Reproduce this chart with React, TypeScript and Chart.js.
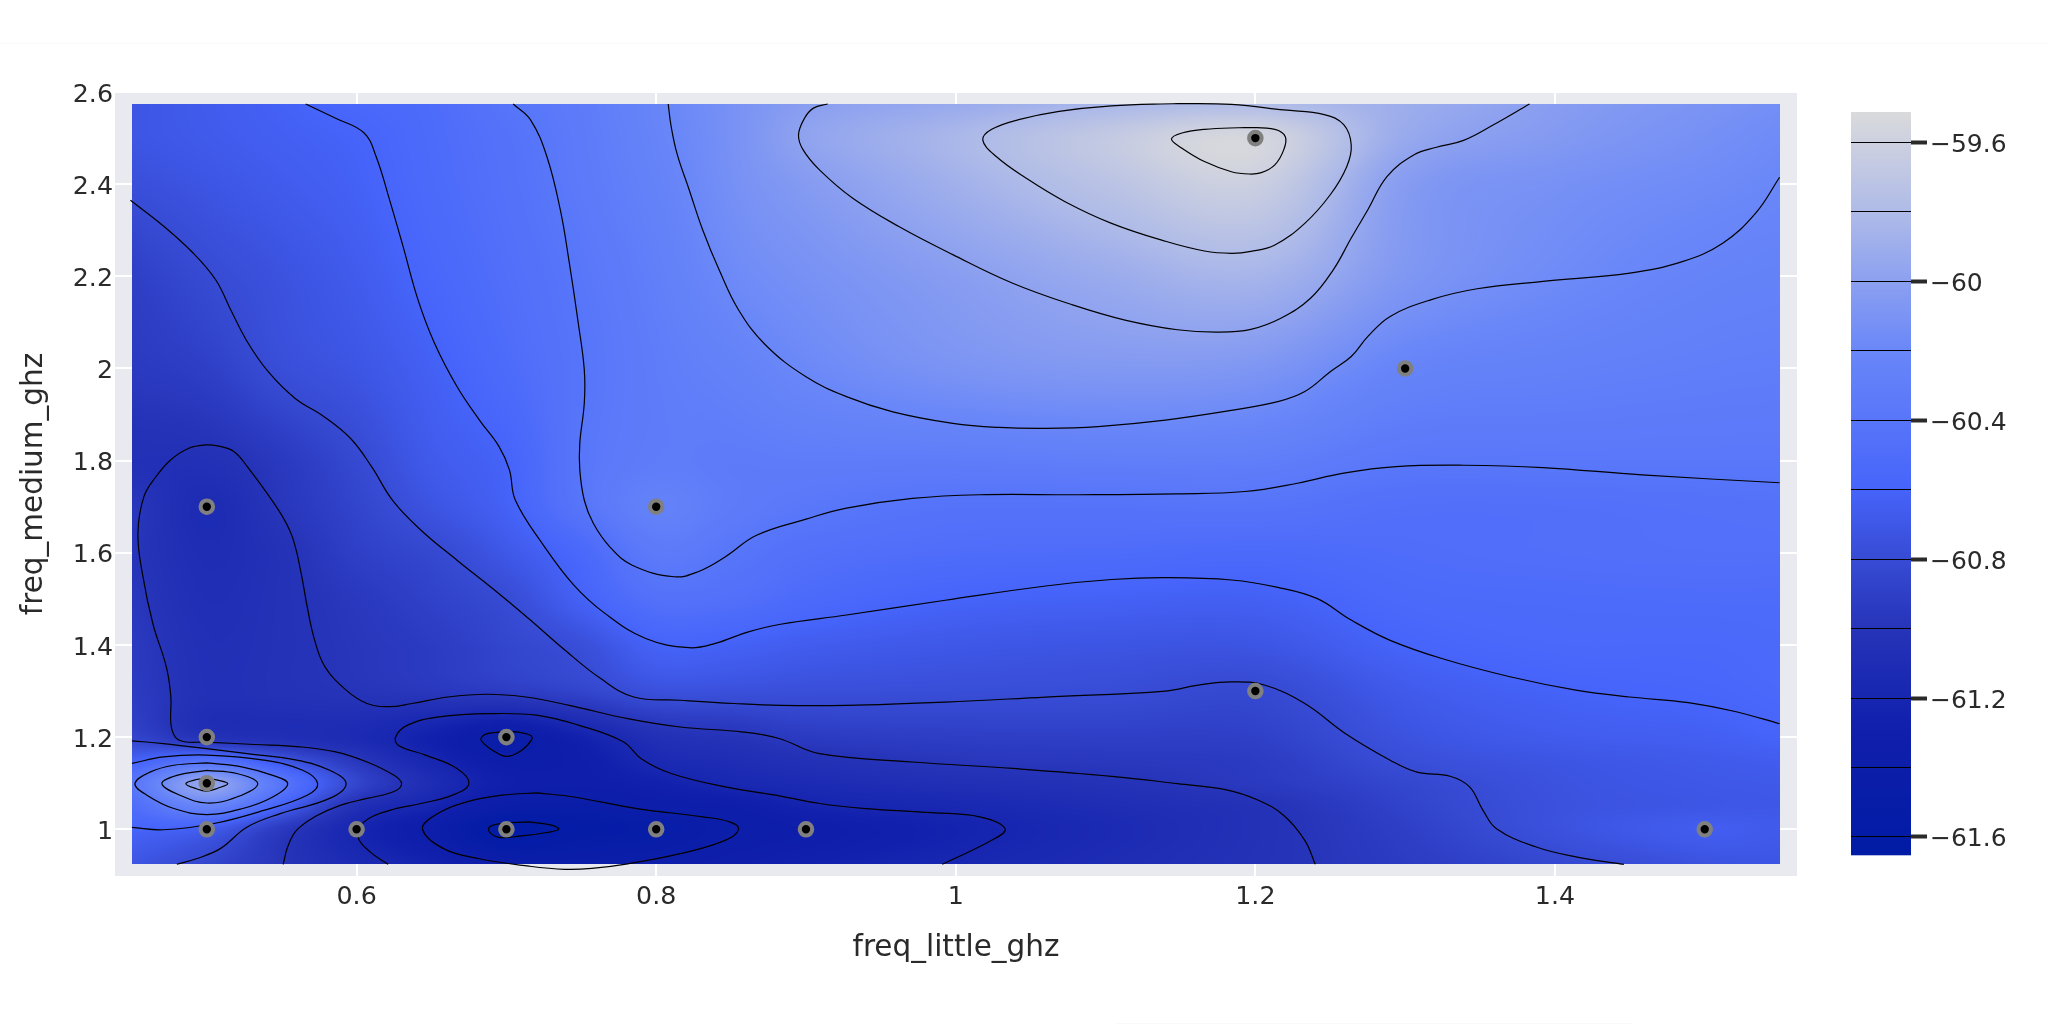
import React, { useEffect, useRef } from "react";
import { Chart, registerables } from "chart.js";

Chart.register(...registerables);

const X_RANGE = [0.4387, 1.5616];
const Y_RANGE = [0.8986, 2.6];
const HEAT_X = [0.45, 0.5, 0.55, 0.6, 0.65, 0.7, 0.75, 0.8, 0.85, 0.9, 1.0, 1.1, 1.2, 1.3, 1.4, 1.5, 1.55];
const HEAT_Y = [0.925, 1, 1.05, 1.1, 1.15, 1.2, 1.3, 1.4, 1.5, 1.6, 1.7, 1.8, 2, 2.2, 2.4, 2.5, 2.575];

const Z_0925 = [-60.72, -60.85, -61.0, -61.14, -61.25, -61.39, -61.41, -61.37, -61.32, -61.27, -61.19, -61.11, -61.03, -60.93, -60.83, -60.74, -60.72];
const Z_1000 = [-60.6, -60.66, -60.95, -61.2, -61.38, -61.62, -61.55, -61.5, -61.4, -61.34, -61.24, -61.14, -61.04, -60.9, -60.75, -60.66, -60.68];
const Z_1050 = [-60.5, -60.24, -60.62, -61.06, -61.22, -61.43, -61.45, -61.38, -61.35, -61.24, -61.17, -61.1, -61.03, -60.87, -60.75, -60.71, -60.7];
const Z_1100 = [-60.41, -59.97, -60.41, -60.85, -61.11, -61.3, -61.33, -61.27, -61.18, -61.13, -61.07, -61.03, -60.95, -60.84, -60.74, -60.7, -60.69];
const Z_1150 = [-60.63, -60.47, -60.73, -60.98, -61.2, -61.37, -61.32, -61.15, -61.1, -61.05, -60.98, -60.96, -60.93, -60.78, -60.72, -60.68, -60.66];
const Z_1200 = [-60.85, -61.03, -61.08, -61.13, -61.27, -61.42, -61.25, -61.06, -61.01, -60.94, -60.91, -60.9, -60.89, -60.74, -60.67, -60.64, -60.6];
const Z_1300 = [-60.93, -61.05, -61.03, -61.0, -60.97, -60.93, -60.86, -60.76, -60.76, -60.77, -60.78, -60.79, -60.82, -60.68, -60.61, -60.58, -60.55];
const Z_1400 = [-60.95, -61.06, -61.03, -60.98, -60.93, -60.85, -60.77, -60.61, -60.62, -60.66, -60.7, -60.72, -60.72, -60.6, -60.55, -60.55, -60.53];
const Z_1500 = [-60.97, -61.08, -61.03, -60.96, -60.88, -60.8, -60.62, -60.46, -60.47, -60.53, -60.6, -60.62, -60.63, -60.54, -60.52, -60.51, -60.51];
const Z_1600 = [-60.99, -61.1, -61.03, -60.9, -60.83, -60.7, -60.55, -60.35, -60.4, -60.46, -60.5, -60.51, -60.53, -60.5, -60.48, -60.47, -60.47];
const Z_1700 = [-60.97, -61.12, -60.98, -60.86, -60.73, -60.62, -60.41, -60.27, -60.33, -60.38, -60.43, -60.43, -60.42, -60.47, -60.47, -60.45, -60.44];
const Z_1800 = [-61.05, -61.05, -60.95, -60.82, -60.68, -60.6, -60.4, -60.32, -60.33, -60.32, -60.32, -60.3, -60.3, -60.38, -60.38, -60.38, -60.38];
const Z_2000 = [-60.95, -60.9, -60.78, -60.72, -60.63, -60.52, -60.41, -60.32, -60.26, -60.19, -60.1, -60.06, -60.08, -60.23, -60.27, -60.3, -60.31];
const Z_2200 = [-60.9, -60.81, -60.74, -60.67, -60.57, -60.48, -60.39, -60.29, -60.18, -60.12, -60.02, -59.92, -59.85, -60.07, -60.17, -60.24, -60.26];
const Z_2400 = [-60.77, -60.72, -60.67, -60.62, -60.53, -60.45, -60.35, -60.25, -60.13, -60.04, -59.88, -59.73, -59.62, -60.03, -60.12, -60.17, -60.2];
const Z_2500 = [-60.72, -60.68, -60.64, -60.6, -60.52, -60.44, -60.34, -60.23, -60.12, -59.98, -59.83, -59.67, -59.55, -59.93, -60.05, -60.13, -60.17];
const Z_2575 = [-60.72, -60.67, -60.62, -60.56, -60.51, -60.41, -60.33, -60.22, -60.12, -60.02, -59.93, -59.84, -59.8, -59.9, -60.02, -60.1, -60.14];
const Z_ROWS = [Z_0925, Z_1000, Z_1050, Z_1100, Z_1150, Z_1200, Z_1300, Z_1400, Z_1500, Z_1600, Z_1700, Z_1800, Z_2000, Z_2200, Z_2400, Z_2500, Z_2575];

const COLOR_Z = [-61.653, -61.3, -61.0, -60.8, -60.6, -60.2, -60.0, -59.8, -59.512];
const COLOR_RGB = [
  [0, 27, 165], [16, 31, 172], [38, 52, 185], [55, 75, 212], [70, 100, 250],
  [105, 135, 248], [140, 160, 240], [175, 187, 232], [218, 218, 220],
];

const C_596 = [[1.193, 2.523], [1.213, 2.519], [1.22, 2.503], [1.219, 2.475], [1.213, 2.442], [1.204, 2.425], [1.196, 2.422], [1.184, 2.427], [1.166, 2.449], [1.151, 2.478], [1.144, 2.498], [1.151, 2.511], [1.166, 2.519], [1.193, 2.523]];
const C_598 = [[1.148, 2.575], [1.184, 2.573], [1.219, 2.561], [1.246, 2.551], [1.259, 2.529], [1.264, 2.485], [1.261, 2.438], [1.25, 2.377], [1.233, 2.315], [1.213, 2.268], [1.197, 2.254], [1.184, 2.25], [1.166, 2.255], [1.14, 2.276], [1.104, 2.315], [1.073, 2.362], [1.047, 2.413], [1.027, 2.46], [1.018, 2.496], [1.024, 2.519], [1.042, 2.54], [1.069, 2.558], [1.104, 2.57], [1.148, 2.575]];
const C_600 = [[0.9145, 2.574], [0.905, 2.565], [0.899, 2.543], [0.895, 2.507], [0.898, 2.475], [0.909, 2.431], [0.931, 2.37], [0.962, 2.308], [0.998, 2.247], [1.038, 2.185], [1.078, 2.138], [1.113, 2.105], [1.148, 2.084], [1.175, 2.079], [1.197, 2.085], [1.217, 2.109], [1.237, 2.153], [1.252, 2.214], [1.264, 2.283], [1.275, 2.344], [1.288, 2.417], [1.306, 2.464], [1.321, 2.48], [1.339, 2.495], [1.359, 2.529], [1.383, 2.574]];
const C_602 = [[0.808, 2.574], [0.81, 2.525], [0.814, 2.465], [0.822, 2.388], [0.831, 2.301], [0.842, 2.214], [0.855, 2.127], [0.873, 2.051], [0.9, 1.982], [0.927, 1.939], [0.958, 1.906], [0.998, 1.881], [1.029, 1.872], [1.06, 1.87], [1.095, 1.874], [1.14, 1.888], [1.184, 1.909], [1.215, 1.928], [1.233, 1.95], [1.25, 1.993], [1.264, 2.026], [1.275, 2.069], [1.29, 2.113], [1.317, 2.149], [1.348, 2.173], [1.392, 2.189], [1.45, 2.207], [1.485, 2.232], [1.512, 2.272], [1.534, 2.337], [1.55, 2.415]];
const C_604 = [[0.7045, 2.574], [0.716, 2.54], [0.727, 2.46], [0.736, 2.344], [0.742, 2.229], [0.748, 2.098], [0.752, 1.997], [0.752, 1.925], [0.749, 1.838], [0.749, 1.78], [0.752, 1.714], [0.758, 1.664], [0.769, 1.613], [0.784, 1.573], [0.812, 1.548], [0.828, 1.559], [0.846, 1.591], [0.867, 1.638], [0.9, 1.673], [0.927, 1.697], [0.971, 1.718], [1.016, 1.726], [1.082, 1.726], [1.148, 1.728], [1.193, 1.733], [1.228, 1.751], [1.259, 1.773], [1.294, 1.787], [1.339, 1.79], [1.392, 1.785], [1.458, 1.769], [1.55, 1.752]];
const C_606 = [[0.566, 2.574], [0.586, 2.543], [0.605, 2.511], [0.613, 2.46], [0.622, 2.366], [0.631, 2.265], [0.641, 2.149], [0.652, 2.055], [0.667, 1.961], [0.682, 1.888], [0.695, 1.831], [0.702, 1.78], [0.706, 1.714], [0.724, 1.62], [0.745, 1.53], [0.766, 1.468], [0.793, 1.414], [0.822, 1.394], [0.84, 1.404], [0.861, 1.428], [0.883, 1.445], [0.927, 1.465], [0.993, 1.497], [1.06, 1.528], [1.104, 1.542], [1.14, 1.546], [1.184, 1.541], [1.215, 1.525], [1.241, 1.501], [1.264, 1.454], [1.29, 1.41], [1.325, 1.37], [1.37, 1.331], [1.414, 1.302], [1.45, 1.287], [1.489, 1.275], [1.521, 1.255], [1.55, 1.229]];
const C_608 = [[0.449, 2.365], [0.47, 2.312], [0.491, 2.25], [0.506, 2.192], [0.516, 2.127], [0.527, 2.058], [0.541, 1.993], [0.559, 1.935], [0.578, 1.896], [0.596, 1.848], [0.61, 1.787], [0.624, 1.714], [0.643, 1.649], [0.667, 1.584], [0.691, 1.522], [0.715, 1.457], [0.739, 1.389], [0.763, 1.327], [0.785, 1.287], [0.816, 1.28], [0.852, 1.273], [0.883, 1.269], [0.927, 1.269], [0.993, 1.276], [1.06, 1.287], [1.14, 1.3], [1.162, 1.313], [1.184, 1.32], [1.206, 1.313], [1.233, 1.273], [1.26, 1.208], [1.29, 1.15], [1.308, 1.124], [1.33, 1.115], [1.343, 1.092], [1.352, 1.041], [1.361, 1.001], [1.387, 0.962], [1.414, 0.94], [1.446, 0.924]];
const C_610 = [[1.24, 0.924], [1.233, 0.976], [1.219, 1.03], [1.202, 1.063], [1.18, 1.086], [1.148, 1.099], [1.104, 1.115], [1.038, 1.132], [0.971, 1.146], [0.909, 1.164], [0.882, 1.197], [0.858, 1.211], [0.816, 1.222], [0.781, 1.24], [0.742, 1.269], [0.713, 1.287], [0.687, 1.293], [0.661, 1.287], [0.637, 1.273], [0.622, 1.266], [0.607, 1.273], [0.593, 1.302], [0.579, 1.352], [0.572, 1.41], [0.567, 1.483], [0.563, 1.555], [0.557, 1.635], [0.548, 1.692], [0.527, 1.787], [0.518, 1.82], [0.507, 1.832], [0.499, 1.834], [0.488, 1.827], [0.476, 1.802], [0.466, 1.765], [0.458, 1.722], [0.454, 1.642], [0.457, 1.555], [0.464, 1.446], [0.473, 1.352], [0.476, 1.287], [0.476, 1.229], [0.479, 1.2], [0.485, 1.19], [0.499, 1.189], [0.532, 1.184], [0.562, 1.179], [0.586, 1.168], [0.607, 1.146], [0.625, 1.117], [0.63, 1.099], [0.625, 1.082], [0.607, 1.067], [0.589, 1.052], [0.572, 1.027], [0.56, 0.998], [0.554, 0.962], [0.551, 0.924]];
const S_608 = [[0.45, 1.192], [0.471, 1.186], [0.5, 1.175], [0.527, 1.164], [0.56, 1.15], [0.582, 1.128], [0.593, 1.099], [0.582, 1.067], [0.549, 1.034], [0.527, 1.005], [0.509, 0.958], [0.493, 0.936], [0.48, 0.924]];
const S_606 = [[0.45, 1.143], [0.471, 1.157], [0.5, 1.161], [0.538, 1.15], [0.564, 1.128], [0.574, 1.099], [0.567, 1.074], [0.538, 1.041], [0.504, 1.012], [0.471, 0.999], [0.45, 1.004]];
const S_604 = [[0.5, 1.144], [0.524, 1.135], [0.544, 1.117], [0.554, 1.099], [0.544, 1.07], [0.524, 1.045], [0.5, 1.032], [0.478, 1.045], [0.46, 1.074], [0.452, 1.099], [0.462, 1.124], [0.478, 1.139], [0.5, 1.144]];
const S_602 = [[0.5, 1.128], [0.52, 1.121], [0.534, 1.099], [0.52, 1.07], [0.5, 1.057], [0.482, 1.074], [0.47, 1.099], [0.48, 1.117], [0.5, 1.128]];
const S_600 = [[0.5, 1.11], [0.508, 1.106], [0.514, 1.099], [0.508, 1.09], [0.5, 1.083], [0.493, 1.088], [0.486, 1.099], [0.493, 1.108], [0.5, 1.11]];
const E_612 = [[0.621, 0.924], [0.609, 0.951], [0.601, 0.983], [0.605, 1.016], [0.622, 1.041], [0.643, 1.056], [0.664, 1.074], [0.675, 1.099], [0.667, 1.132], [0.646, 1.161], [0.628, 1.182], [0.626, 1.2], [0.634, 1.226], [0.655, 1.244], [0.691, 1.251], [0.721, 1.247], [0.748, 1.226], [0.778, 1.19], [0.79, 1.153], [0.81, 1.121], [0.846, 1.092], [0.883, 1.072], [0.909, 1.056], [0.94, 1.045], [0.984, 1.036], [1.016, 1.027], [1.033, 1.001], [1.024, 0.976], [0.991, 0.924]];
const F_614 = [[0.721, 1.079], [0.745, 1.07], [0.787, 1.045], [0.831, 1.027], [0.849, 1.016], [0.855, 1.0], [0.846, 0.976], [0.816, 0.947], [0.781, 0.925], [0.757, 0.915], [0.739, 0.913], [0.715, 0.92], [0.682, 0.936], [0.658, 0.958], [0.644, 1.0], [0.652, 1.03], [0.673, 1.059], [0.697, 1.074], [0.721, 1.079]];
const G_616 = [[0.715, 1.016], [0.73, 1.009], [0.735, 1.0], [0.727, 0.993], [0.709, 0.985], [0.694, 0.983], [0.688, 1.0], [0.694, 1.011], [0.715, 1.016]];
const H_614 = [[0.706, 1.212], [0.716, 1.204], [0.717, 1.195], [0.71, 1.171], [0.7, 1.158], [0.691, 1.171], [0.685, 1.186], [0.683, 1.197], [0.688, 1.208], [0.706, 1.212]];
const CONTOURS = [C_596, C_598, C_600, C_602, C_604, C_606, C_608, C_610, S_608, S_606, S_604, S_602, S_600, E_612, F_614, G_616, H_614];

const TRIAL_X = [0.5, 0.8, 1.3, 1.2, 0.5, 0.5, 0.5, 0.6, 0.7, 0.8, 0.9, 0.7, 1.2, 1.5];
const TRIAL_Y = [1.7, 1.7, 2, 2.5, 1.2, 1.1, 1, 1, 1, 1, 1, 1.2, 1.3, 1];

const CB_RANGE = [-61.653, -59.512];
const FONT = "'DejaVu Sans'";
const TEXT = "#2a2a2a";

function colorAt(z: number) {
  const n = COLOR_Z.length;
  if (z <= COLOR_Z[0]) return COLOR_RGB[0];
  if (z >= COLOR_Z[n - 1]) return COLOR_RGB[n - 1];
  let i = 0;
  while (z > COLOR_Z[i + 1]) i++;
  const t = (z - COLOR_Z[i]) / (COLOR_Z[i + 1] - COLOR_Z[i]);
  return COLOR_RGB[i].map((c, k) => c + (COLOR_RGB[i + 1][k] - c) * t);
}

function slopes(xs: number[], ys: number[]) {
  return xs.map((_, i) => {
    if (i === 0) return (ys[1] - ys[0]) / (xs[1] - xs[0]);
    if (i === xs.length - 1) return (ys[i] - ys[i - 1]) / (xs[i] - xs[i - 1]);
    return (ys[i + 1] - ys[i - 1]) / (xs[i + 1] - xs[i - 1]);
  });
}

function hermite(xs: number[], ys: number[], ms: number[], x: number) {
  let i = 0;
  while (i < xs.length - 2 && x > xs[i + 1]) i++;
  const h = xs[i + 1] - xs[i];
  const t = Math.min(1, Math.max(0, (x - xs[i]) / h));
  const t2 = t * t;
  const t3 = t2 * t;
  return (2 * t3 - 3 * t2 + 1) * ys[i] + (t3 - 2 * t2 + t) * h * ms[i] + (-2 * t3 + 3 * t2) * ys[i + 1] + (t3 - t2) * h * ms[i + 1];
}

const heatPlugin = {
  id: "heat",
  beforeDatasetsDraw(chart: any) {
    const { ctx, scales } = chart;
    const x0 = Math.round(scales.x.getPixelForValue(HEAT_X[0]));
    const x1 = Math.round(scales.x.getPixelForValue(HEAT_X[HEAT_X.length - 1]));
    const y0 = Math.round(scales.y.getPixelForValue(HEAT_Y[HEAT_Y.length - 1]));
    const y1 = Math.round(scales.y.getPixelForValue(HEAT_Y[0]));
    const w = x1 - x0;
    const h = y1 - y0;
    const img = ctx.createImageData(w, h);
    const rowSlopes = Z_ROWS.map((r) => slopes(HEAT_X, r));
    for (let px = 0; px < w; px++) {
      const xv = scales.x.getValueForPixel(x0 + px + 0.5);
      const col = Z_ROWS.map((r, i) => hermite(HEAT_X, r, rowSlopes[i], xv));
      const ms = slopes(HEAT_Y, col);
      for (let py = 0; py < h; py++) {
        const yv = scales.y.getValueForPixel(y0 + py + 0.5);
        const c = colorAt(hermite(HEAT_Y, col, ms, yv));
        const o = (py * w + px) * 4;
        img.data[o] = c[0];
        img.data[o + 1] = c[1];
        img.data[o + 2] = c[2];
        img.data[o + 3] = 255;
      }
    }
    ctx.putImageData(img, x0, y0);
  },
};

const backdropPlugin = {
  id: "backdrop",
  beforeDraw(chart: any) {
    const { ctx, chartArea: a, width } = chart;
    ctx.save();
    ctx.fillStyle = "#ffffff";
    ctx.fillRect(0, 0, width, chart.height);
    ctx.fillStyle = "#f8f8f8";
    ctx.fillRect(0, 43, width, 1);
    ctx.fillRect(1117, 1023, 515, 1);
    ctx.fillStyle = "#e9e9f0";
    ctx.fillRect(a.left, a.top, a.right - a.left, a.bottom - a.top);
    ctx.restore();
  },
};

const colorbarPlugin = {
  id: "colorbar",
  beforeDatasetsDraw(chart: any) {
    const { ctx, chartArea: a, scales } = chart;
    const g = ctx.createLinearGradient(0, a.bottom, 0, a.top);
    const span = CB_RANGE[1] - CB_RANGE[0];
    COLOR_Z.forEach((z, i) => {
      g.addColorStop((z - CB_RANGE[0]) / span, `rgb(${COLOR_RGB[i].join(",")})`);
    });
    ctx.save();
    ctx.fillStyle = g;
    const top = scales.y.getPixelForValue(CB_RANGE[1]);
    const bottom = scales.y.getPixelForValue(CB_RANGE[0]);
    ctx.fillRect(a.left, top, a.right - a.left, bottom - top);
    ctx.restore();
  },
};

const fmt = (v: any) => String(parseFloat(Number(v).toFixed(1)));

export default function App() {
  const mainRef = useRef<HTMLCanvasElement>(null);
  const barRef = useRef<HTMLCanvasElement>(null);

  useEffect(() => {
    const lines = CONTOURS.map((pts) => ({
      type: "scatter",
      data: pts.map(([x, y]) => ({ x, y })),
      showLine: true,
      borderColor: "#000000",
      borderWidth: 1.2,
      pointRadius: 0,
      tension: 0.4,
      order: 2,
    }));
    const trials = {
      type: "scatter",
      data: TRIAL_X.map((x, i) => ({ x, y: TRIAL_Y[i] })),
      showLine: false,
      pointRadius: 6.25,
      pointBorderWidth: 4.1,
      pointBackgroundColor: "#000000",
      pointBorderColor: "#808080",
      order: 1,
    };
    const main = new Chart(mainRef.current!, {
      type: "scatter",
      data: { datasets: [...lines, trials] as any },
      plugins: [backdropPlugin, heatPlugin],
      options: {
        responsive: false,
        animation: false,
        events: [],
        layout: { padding: { left: 0, top: 92, right: 251, bottom: 0 } },
        plugins: { legend: { display: false }, tooltip: { enabled: false } },
        scales: {
          x: {
            type: "linear",
            min: X_RANGE[0],
            max: X_RANGE[1],
            afterFit: (s: any) => { s.height = 148; },
            grid: { color: "#ffffff", lineWidth: 2, drawTicks: false },
            border: { display: false },
            ticks: { stepSize: 0.2, includeBounds: false, maxRotation: 0, padding: 6, color: TEXT, font: { family: FONT, size: 25.3 }, callback: fmt },
            title: { display: true, text: "freq_little_ghz", color: TEXT, font: { family: FONT, size: 29.5 }, padding: { top: 0, bottom: 57.5 } },
          },
          y: {
            type: "linear",
            min: Y_RANGE[0],
            max: Y_RANGE[1],
            afterFit: (s: any) => { s.width = 115; },
            grid: { color: "#ffffff", lineWidth: 2, drawTicks: false },
            border: { display: false },
            ticks: { stepSize: 0.2, includeBounds: false, padding: 2, labelOffset: 3, color: TEXT, font: { family: FONT, size: 25.3 }, callback: fmt },
            title: { display: true, text: "freq_medium_ghz", color: TEXT, font: { family: FONT, size: 29.5 }, padding: { top: 17, bottom: 0 } },
          },
        },
      } as any,
    });

    const bar = new Chart(barRef.current!, {
      type: "scatter",
      data: { datasets: [{ data: [] }] },
      plugins: [colorbarPlugin],
      options: {
        responsive: false,
        animation: false,
        events: [],
        layout: { padding: { left: 51, top: 112, right: 0, bottom: 168.7 } },
        plugins: { legend: { display: false }, tooltip: { enabled: false } },
        scales: {
          x: { type: "linear", display: false, min: 0, max: 1 },
          y: {
            type: "linear",
            position: "right",
            min: CB_RANGE[0],
            max: CB_RANGE[1],
            afterFit: (s: any) => { s.width = 137; },
            border: { display: false },
            grid: {
              z: 1,
              color: "#000000",
              lineWidth: 1,
              tickLength: 16,
              tickWidth: 4,
              tickColor: (c: any) => (Math.round(Math.abs(c.tick.value) * 10) % 4 === 0 ? "#2a2a2a" : "rgba(0,0,0,0)"),
            },
            ticks: {
              stepSize: 0.2,
              includeBounds: false,
              padding: 3,
              labelOffset: 3,
              color: TEXT,
              font: { family: FONT, size: 25 },
              callback: (v: any) => (Math.round(Math.abs(v) * 10) % 4 === 0 ? fmt(v).replace("-", "\u2212") : ""),
            },
          },
        },
      } as any,
    });

    return () => {
      main.destroy();
      bar.destroy();
    };
  }, []);

  return (
    <div style={{ position: "absolute", left: 0, top: 0, width: 2048, height: 1024, overflow: "hidden", background: "#fff" }}>
      <canvas ref={mainRef} width={2048} height={1024} style={{ position: "absolute", left: 0, top: 0, display: "block" }} />
      <canvas ref={barRef} width={248} height={1024} style={{ position: "absolute", left: 1800, top: 0, display: "block" }} />
    </div>
  );
}
